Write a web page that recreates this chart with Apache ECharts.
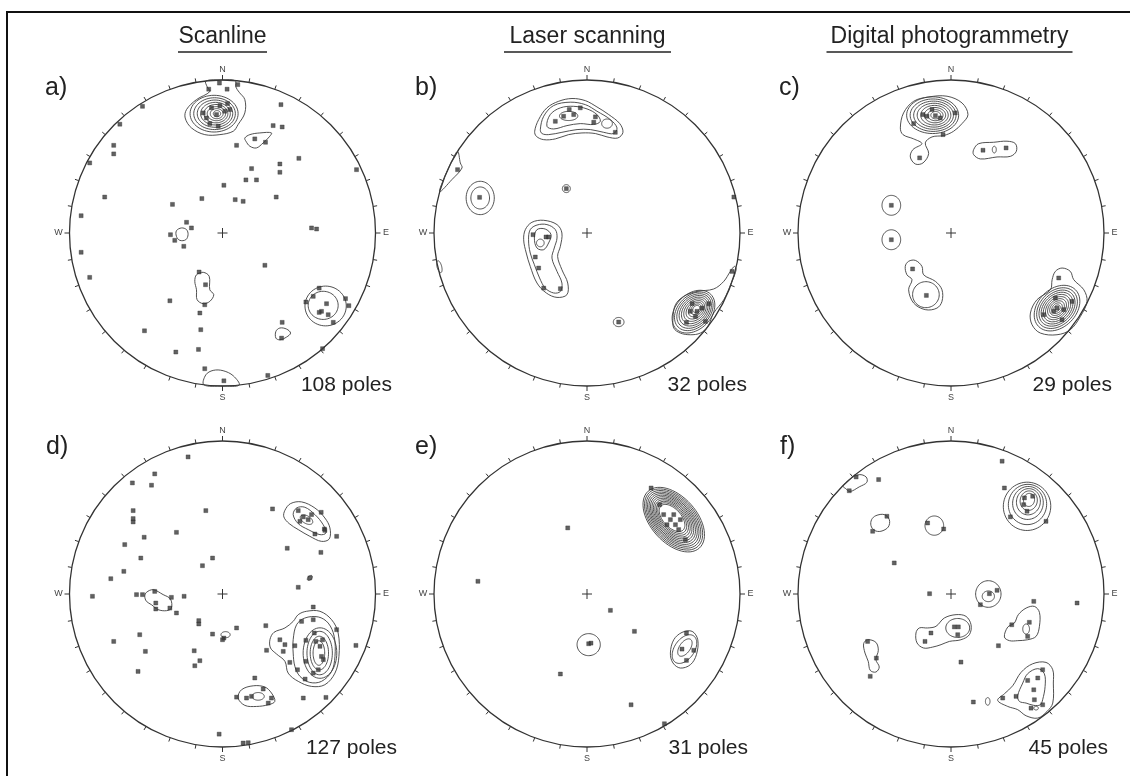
<!DOCTYPE html>
<html>
<head>
<meta charset="utf-8">
<script src="https://cdn.jsdelivr.net/npm/echarts@6/dist/echarts.min.js"></script>
<style>html,body{margin:0;padding:0;background:#fff}#chart{width:1130px;height:776px}</style>
</head>
<body>
<div id="chart"></div>
<script>
// ---------------- DATA (stereonet coordinates, primitive circle radius = 100) ----------------
const columnTitles = ['Scanline', 'Laser scanning', 'Digital photogrammetry'];
const panelLabels = ['a)', 'b)', 'c)', 'd)', 'e)', 'f)'];
const poleCounts = ['108 poles', '32 poles', '29 poles', '127 poles', '31 poles', '45 poles'];
const compassLabels = ['N', 'E', 'S', 'W'];

// ---- a) Scanline
const polesA = [
[-2,98],[10,97],[-9,94],[3,94],
[-12.6,78.5],[-7.2,81.8],[-1.7,83.3],[3.3,84.6],[-3.9,77.4],[1.5,79.6],[-8.3,71.5],[-2.8,69.8],[4.8,80.7],[-10.5,75.2],
[-52.3,82.8],[-67.1,71.1],[-71.1,57.3],[-71.1,51.7],[-86.8,45.8],
[38.2,83.9],[33.1,70.2],[39.0,69.3],[21.1,61.5],[28.1,59.3],[9.2,57.3],[49.9,48.8],[87.6,41.4],
[19.0,42.1],[37.5,45.1],[37.5,39.7],[15.3,34.7],[22.2,34.7],[0.9,31.2],
[-77.0,23.5],[-32.7,18.7],[-13.5,22.5],[8.3,21.8],[13.5,20.7],[35.1,23.5],
[-92.4,11.3],[-23.5,7.0],[-20.3,3.3],[-34.0,-1.1],[-31.2,-4.8],[-25.3,-8.7],
[58.2,3.3],[61.5,2.6],[-92.4,-12.6],[-86.8,-29.0],[27.7,-21.1],
[-15.3,-25.5],[-11.1,-33.8],[-11.6,-46.9],[-34.4,-44.3],[-14.8,-52.3],[-14.2,-63.2],[-51.0,-63.9],[-30.5,-77.8],[-15.7,-76.1],
[39.0,-58.4],[38.6,-68.7],
[63.2,-36.0],[59.3,-41.4],[54.5,-45.1],[68.0,-46.2],[80.4,-42.9],[82.6,-47.5],[64.7,-51.2],[69.1,-53.4],[63.2,-51.9],[72.4,-58.4],
[65.4,-75.6],[-11.6,-88.7],[0.9,-96.6],[29.6,-93.1]
];
const contoursA = [
[[-10.9,99.4],[-10.0,95.5],[-8.3,92.4],[-17.0,87.2],[-23.5,80.7],[-24.4,75.2],[-20.3,68.7],[-11.6,64.3],[-1.7,64.3],[7.0,66.5],[10.2,70.9],[14.6,78.5],[14.6,87.2],[10.9,92.0],[8.7,95.5],[8.3,99.6],[0,100]],
[[14.6,62.1],[17.9,64.3],[24.4,65.4],[32.0,65.4],[29.9,62.1],[26.6,58.9],[22.2,55.6],[17.9,56.7],[15.3,60.0]],
[[-30.1,1.5],[-26.8,3.3],[-23.5,2.2],[-22.5,-1.1],[-24.0,-4.4],[-27.9,-4.8],[-30.1,-2.2]],
[[-17.0,-27.3],[-12.6,-25.7],[-8.7,-28.3],[-8.3,-37.1],[-5.7,-40.3],[-8.3,-44.7],[-12.6,-46.2],[-16.6,-43.6],[-17.0,-37.1],[-18.1,-31.6]],
[[34.9,-64.3],[37.5,-62.1],[41.9,-62.8],[44.5,-65.4],[41.9,-68.0],[37.5,-69.8],[34.9,-68.7]],
[[-12.2,-99.2],[-10.9,-92.7],[-6.1,-89.8],[0.4,-90.0],[7.0,-93.3],[10.9,-99.4],[0,-100]]
];
// contour rings: [centreX, centreY, semiAxisX, semiAxisY, rotationDeg]
const ringsA = [
[-5.5,78,15.7,12,0],[-5.2,78,13.6,10.4,0],[-4.9,78,11.6,8.9,0],[-4.6,78,9.7,7.4,0],[-4.3,78,7.8,6.0,0],[-4.0,78,6.0,4.6,0],[-3.8,78,4.2,3.3,0],[-3.6,78,2.4,2.0,0],
[67.4,-47.7,13.5,13.0,0],[65.8,-47.3,9.8,9.2,0]
];

// ---- b) Laser scanning
const polesB = [
[-11.6,80.7],[-4.4,81.8],[-15.3,76.3],[-20.7,73.0],[5.5,75.9],[4.4,72.4],[18.5,65.8],[-8.7,77.4],
[-84.6,41.4],[-70.2,23.3],[-13.5,29.0],
[-35.3,-1.1],[-26.8,-2.6],[-25.1,-2.6],[-33.8,-15.7],[-31.6,-22.9],[-28.3,-36.0],[-17.4,-36.4],
[68.7,-46.2],[79.6,-46.2],[67.6,-51.2],[75.2,-49.1],[70.9,-54.5],[65.0,-58.4],[77.4,-57.8],[71.9,-51.2],
[94.8,-25.1],[96,23.5],[20.7,-58.2]
];
const contoursB = [
[[-34.2,66.5],[-31.6,74.1],[-26.2,81.8],[-18.5,86.1],[-9.8,87.9],[-1.1,86.5],[6.5,82.4],[14.2,77.4],[21.4,71.5],[23.5,65.8],[20.1,62.1],[13.1,62.8],[5.5,65.0],[-3.3,65.4],[-12.0,64.3],[-20.7,61.5],[-28.3,61.0],[-33.1,63.2]],
[[-30.5,67.6],[-28.3,76.3],[-21.8,83.3],[-10.9,85.5],[-1.1,83.9],[6.5,79.6],[15.3,74.1],[19.6,68.7],[17.4,65.0],[10.9,65.8],[2.2,67.6],[-6.5,67.6],[-16.4,65.8],[-25.1,64.3],[-29.4,65.0]],
[[-26.2,69.8],[-24.0,77.4],[-17.4,81.8],[-8.7,82.8],[0,81.1],[6.5,77.4],[8.7,73.0],[4.4,70.9],[-4.4,71.5],[-13.1,70.2],[-21.8,68.0]],
[[-84.6,53.3],[-82.8,45.8],[-81.7,42.5],[-88.3,34.9],[-96.3,27.0],[-92.2,38.7],[-88.5,46.5]],
[[-41.4,-4.4],[-40.3,2.2],[-36.0,7.0],[-28.3,8.3],[-19.6,5.5],[-16.4,0],[-17.4,-8.7],[-19.2,-15.3],[-16.4,-24.0],[-12.6,-32.7],[-13.1,-40.3],[-19.6,-42.1],[-26.6,-39.2],[-32.7,-32.7],[-37.1,-21.8],[-39.7,-13.1]],
[[-38.2,-4.4],[-37.1,2.2],[-32.7,5.2],[-26.2,5.5],[-20.7,2.2],[-19.6,-3.3],[-21.4,-9.8],[-22.9,-16.4],[-19.6,-25.1],[-16.4,-32.7],[-17.4,-38.2],[-21.8,-39.2],[-27.3,-36.0],[-31.0,-29.4],[-34.4,-20.7],[-37.1,-13.1]],
[[-34.4,-3.3],[-32.7,2.2],[-27.3,2.6],[-23.5,-1.1],[-25.1,-6.5],[-28.3,-10.9],[-32.7,-9.8]],
[[56.2,-55.6],[57.8,-46.9],[63.2,-41.4],[71.9,-38.2],[82.8,-36.6],[89.4,-31.6],[93.7,-25.1],[96.4,-21.8],[97.5,-23.9],[94.5,-32.2],[89.4,-43.6],[82.8,-52.3],[79.0,-61.0],[74.1,-65.4],[67.6,-66.5],[61.0,-65.4],[56.7,-62.1]]
];
const ringsB = [
[-69.8,22.9,9.2,10.9,0],[-69.8,22.9,6.1,7.2,0],
[-13.5,29.0,2.6,2.6,0],
[-12,76.5,6,3,0],[13.1,71.5,3.5,3,0],
[-30.5,-6.5,2.5,2.5,0],
[69.6,-51.4,16.0,11.6,45],[69.8,-51.2,14.5,10.4,45],[70.0,-51.0,13.0,9.3,45],[70.2,-50.8,11.5,8.2,45],[70.4,-50.6,10.0,7.1,45],[70.6,-50.4,8.5,6.0,45],[70.8,-50.2,7.0,4.9,45],[71.0,-50.0,5.5,3.8,45],[71.2,-49.8,4.0,2.8,45],[71.4,-49.6,2.6,1.9,45],
[20.7,-58.2,3.5,3,0],
[-96.5,-22,1.5,4,15]
];

// ---- c) Digital photogrammetry
const polesC = [
[-24.4,71.5],[-18.3,77.4],[-12.4,80.7],[-7.0,75.2],[2.8,78.5],[-5.2,64.3],[-15.7,76.3],[-10.2,76.7],
[-20.5,49.1],[20.9,54.1],[36.0,55.6],[-39.0,18.1],[-39.0,-4.4],[-25.1,-23.5],[-16.1,-40.8],
[70.4,-29.4],[68.2,-42.5],[79.1,-44.7],[67.1,-51.2],[60.6,-53.4],[72.6,-56.7],[73.7,-50.1],[69.3,-49.1]
];
const contoursC = [
[[-33.1,68.7],[-31.0,78.5],[-24.4,86.1],[-14.6,88.9],[-2.6,89.4],[7.2,85.0],[11.1,77.4],[7.2,71.5],[1.7,66.5],[-4.8,63.7],[-12.4,62.8],[-16.8,58.9],[-14.6,51.9],[-18.3,45.8],[-23.3,45.1],[-26.6,49.7],[-24.9,54.5],[-19.0,58.4],[-24.4,61.5],[-31.4,64.3]],
[[14.8,54.5],[18.1,58.4],[27.9,59.3],[36.6,60.0],[42.1,58.4],[42.7,53.4],[38.8,50.1],[30.1,49.7],[19.2,48.4],[14.8,51.2]],
[[-29.9,-21.8],[-27.7,-18.5],[-23.3,-17.9],[-19.0,-21.8],[-17.9,-27.3],[-10.2,-31.6],[-5.9,-37.1],[-5.9,-44.7],[-9.2,-49.1],[-16.8,-50.1],[-24.4,-45.8],[-27.7,-37.1],[-25.5,-30.5],[-28.8,-27.3]],
[[66.1,-30.5],[68.2,-25.1],[72.6,-22.9],[78.0,-25.1],[80.2,-30.5],[86.8,-37.1],[88.9,-44.7],[84.6,-54.5],[78.0,-63.2],[69.3,-66.5],[58.4,-65.4],[53.0,-60.0],[51.9,-52.3],[56.2,-43.6],[65.0,-37.1]]
];
const ringsC = [
[-12,77,17,12,0],[-11.7,77,15,10.6,0],[-11.4,77,13,9.2,0],[-11.1,77,11,7.8,0],[-10.8,77,9,6.4,0],[-10.5,77,7,5,0],[-10.2,77,5,3.6,0],[-10,77,3.2,2.4,0],
[28.3,54.5,1.3,2.2,0],
[-39,18.1,6.1,6.5,0],[-39,-4.4,6.1,6.5,0],
[-16.4,-40.3,8.7,8.5,0],
[69.3,-49.1,17,12.5,45],[69.3,-49.1,15.2,11.1,45],[69.3,-49.1,13.5,9.8,45],[69.3,-49.1,11.9,8.6,45],[69.3,-49.1,10.3,7.4,45],[69.3,-49.1,8.7,6.2,45],[69.3,-49.1,7.1,5.1,45],[69.3,-49.1,5.5,4.0,45],[69.3,-49.1,3.9,2.9,45],[69.3,-49.1,2.4,1.8,45]
];

// ---- d) Scanline
const polesD = [
[-22.5,89.6],[-44.3,78.5],[-58.9,72.6],[-46.4,71.1],[-58.4,54.5],[-58.4,49.3],[-58.4,47.1],[-10.9,54.5],[-30.1,40.3],[-51.2,37.1],[-63.9,32.3],[-53.4,23.5],[-6.5,23.5],[-13.1,18.5],[-64.5,14.8],[-73.0,10.0],[-85.0,-1.5],
[-56.2,-0.4],[-52.3,-0.4],[-44.3,1.7],[-43.6,-5.9],[-43.6,-9.8],[-33.4,-2.2],[-34.4,-9.2],[-25.1,-1.5],[-30.1,-12.4],
[-15.5,-17.4],[-15.5,-19.6],[-6.5,-26.2],[0.9,-28.8],[0,-29.9],[9.2,-22.2],[28.3,-20.7],
[-54.1,-26.6],[-71.1,-31.0],[-50.4,-37.5],[-18.5,-37.1],[-14.8,-43.6],[-18.1,-46.9],[-55.2,-50.6],
[32.7,55.6],[42.3,29.9],[64.3,27.2],[74.6,37.7],[57.1,10.5],[49.5,4.4],[87.2,-33.6],[21.1,-54.9],[52.8,-68.0],[67.6,-67.6],[45.1,-88.7],[-2.2,-91.6],[13.5,-97.4],[16.8,-97.2],
[49.5,54.5],[52.8,50.4],[50.6,47.5],[56.0,48.6],[58.2,51.9],[64.5,53.4],[66.6,42.5],[60.4,39.2],[66.9,41.6],
[59.3,-8.5],[51.7,-17.9],[59.3,-16.8],[74.6,-23.3],[37.5,-29.9],[40.8,-33.1],[47.3,-33.8],[39.7,-37.5],[28.8,-36.8],[54.5,-30.3],[61.0,-31.0],[65.4,-29.9],[60.0,-25.5],[64.7,-40.8],[65.9,-42.9],[54.5,-44.0],[44.0,-44.7],[49.0,-49.5],[59.3,-51.7],[54.0,-55.6],[62.6,-49.5],[63.7,-34.2],
[9.2,-67.4],[15.7,-68.0],[19.0,-66.9],[26.6,-62.1],[29.9,-71.3],[32.0,-68.0]
];
const contoursD = [
[[40.1,50.4],[40.8,54.7],[44.5,59.1],[51.7,60.2],[60.4,56.2],[66.9,49.7],[70.2,43.2],[69.8,36.0],[64.7,34.4],[57.1,37.7],[49.5,42.1],[43.6,46.0]],
[[46.2,51.9],[48.4,56.2],[53.8,56.7],[60.4,51.9],[65.8,45.3],[67.6,39.9],[63.7,38.8],[56.0,42.1],[49.5,46.0]],
[[-50.8,-1.5],[-49.7,1.1],[-45.3,2.8],[-38.8,-0.4],[-34.0,-3.3],[-33.4,-9.2],[-36.6,-10.9],[-42.1,-10.2],[-46.4,-7.0],[-49.7,-4.8]],
[[31.0,-29.9],[33.6,-25.1],[40.8,-22.2],[46.2,-17.9],[49.5,-13.5],[54.9,-11.3],[63.7,-11.3],[71.3,-16.8],[75.6,-25.5],[76.1,-40.8],[73.5,-51.7],[66.9,-59.3],[58.2,-60.4],[49.5,-57.1],[42.9,-51.7],[40.8,-44.0],[35.3,-39.2],[31.4,-35.3]],
[[46.2,-29.9],[48.4,-20.1],[53.8,-15.7],[62.6,-15.0],[69.1,-19.0],[73.0,-27.7],[73.5,-40.8],[71.3,-50.6],[64.7,-57.1],[57.1,-57.8],[50.6,-53.8],[47.3,-47.3],[46.2,-38.6]],
[[10.2,-68.0],[12.4,-62.6],[20.1,-60.0],[27.7,-60.8],[32.0,-64.7],[34.2,-70.2],[29.9,-72.4],[22.2,-73.5],[14.6,-72.8]]
];
const ringsD = [
[54.9,48.6,4.5,2.5,-30],
[2.0,-26.6,3,2,0],
[57.1,10.5,2,1.2,45],
[63.7,-38.6,11,16.5,0],[63.5,-38.6,8.3,14.2,0],[63.3,-38.6,6,11,0],[63.0,-38.6,3.8,8,0],
[23.3,-66.9,4,2.5,0]
];

// ---- e) Laser scanning
const polesE = [
[-12.6,43.2],[-71.3,8.3],[15.3,-10.7],[31.0,-24.4],[1.1,-32.5],[2.6,-32.1],[-17.4,-52.3],[28.8,-72.4],[50.6,-84.8],
[41.9,69.3],[50.1,51.9],[54.5,48.6],[56.7,51.9],[57.8,45.3],[52.3,45.3],[61.0,48.6],[59.9,42.1],[47.5,58.4],[64.3,35.5],
[65.0,-25.5],[62.1,-36.0],[69.8,-36.8],[65.0,-43.4]
];
const contoursE = [
[[54.5,-38.6],[56.7,-29.9],[62.1,-25.1],[68.7,-24.4],[72.4,-29.9],[71.5,-39.7],[67.6,-46.2],[61.0,-48.4],[56.2,-45.1]]
];
const ringsE = [
[56.7,48.6,25,15,-48],[56.6,48.7,23.7,14.1,-48],[56.5,48.8,22.4,13.2,-48],[56.4,48.9,21.1,12.3,-48],[56.3,49.0,19.8,11.5,-48],[56.2,49.1,18.5,10.7,-48],[56.1,49.2,17.2,9.9,-48],[56.0,49.3,15.9,9.1,-48],[55.9,49.4,14.6,8.3,-48],[55.8,49.5,13.3,7.5,-48],[55.7,49.6,12.0,6.7,-48],[55.6,49.7,10.7,5.9,-48],
[63.7,-36.0,10.5,6.5,55],[64.0,-35.0,6.5,3.5,55],
[1.1,-33.1,7.6,7.2,0]
];

// ---- f) Digital photogrammetry
const polesF = [
[33.4,86.8],[-47.3,74.8],[-62,76.5],[-66.5,67.5],[-41.9,50.8],[-51.2,41.0],[-15.3,46.4],[-4.8,42.5],[-37.1,20.3],[-14.0,0.2],
[82.4,-5.9],[54.1,-4.8],[25.1,0.2],[30.1,2.4],[19.2,-7.0],[39.7,-20.1],[51.2,-18.5],[50.1,-27.7],[31.0,-33.8],
[2.2,-21.5],[4.8,-21.5],[4.4,-26.6],[-13.1,-25.5],[-17.0,-31.0],[6.5,-44.5],
[-54.5,-31.0],[-48.8,-41.9],[-52.8,-53.8],
[14.6,-70.6],[33.8,-68.0],[50.1,-56.5],[56.7,-54.9],[59.9,-49.5],[54.1,-62.6],[42.5,-66.9],[54.5,-69.1],[52.3,-74.6],[59.9,-72.4],
[47.5,58.4],[53.4,63.9],[48.0,62.8],[38.8,50.4],[62.1,47.5],[49.7,54.1],[34.9,69.3]
];
const contoursF = [
[[-70.5,70.5],[-66,75.2],[-60,78.0],[-55.5,76.5],[-55,73],[-60,70],[-66,67],[-69,69]],
[[-51.9,48.6],[-49.1,51.2],[-43.6,51.9],[-40.3,48.6],[-41.0,43.8],[-45.8,41.0],[-50.1,41.6],[-52.3,44.7]],
[[-22.9,-25.5],[-20.7,-22.2],[-15.3,-22.2],[-9.8,-21.1],[-4.4,-15.7],[3.3,-13.5],[9.8,-14.6],[13.1,-20.1],[12.0,-26.6],[6.5,-29.9],[-1.1,-31.0],[-6.5,-33.1],[-12.0,-34.7],[-17.9,-35.3],[-22.2,-32.0]],
[[34.9,-28.1],[37.1,-21.6],[41.4,-19.0],[44.0,-13.5],[49.1,-9.2],[54.5,-8.1],[57.8,-12.0],[57.8,-21.1],[55.6,-27.7],[50.1,-29.9],[43.6,-30.5],[38.2,-30.5]],
[[-57.1,-32.5],[-54.5,-29.9],[-49.1,-31.6],[-47.5,-36.8],[-49.1,-42.9],[-46.9,-47.7],[-49.1,-51.0],[-52.8,-49.9],[-54.1,-44.0],[-56.2,-38.6]],
[[30.5,-69.5],[34.9,-65.2],[40.3,-60.0],[45.8,-51.2],[53.4,-45.6],[62.1,-44.7],[66.5,-49.5],[66.9,-58.2],[66.5,-71.3],[62.8,-76.7],[56.7,-81.1],[49.1,-79.6],[43.6,-75.6],[37.1,-73.5]],
[[43.6,-66.5],[46.9,-58.2],[50.1,-52.1],[56.7,-48.8],[61.0,-52.1],[61.5,-60.4],[59.9,-69.1],[58.4,-72.4],[54.1,-72.8],[49.1,-71.3],[44.7,-70.2]]
];
const ringsF = [
[-10.9,44.7,6.1,6.3,0],
[49.7,57.3,15.5,15.8,-10],[50.0,58.5,12.5,13.2,-10],[50.3,59.5,10,10.8,-10],[50.6,60.3,7.8,8.6,-10],[50.8,61.0,5.6,6.4,-10],[51.0,61.5,3.6,4.3,-10],
[24.4,0,8.3,8.7,0],[24.4,-1.5,4,3.5,0],
[4.4,-22.2,7.8,6.2,0],
[49.1,-22.9,2.2,3.3,0],
[55.6,-74.6,1.5,1.2,0],[24.0,-70.2,1.5,2.5,0]
];

// ---------------- LAYOUT / STYLE ----------------
const panelPoles = [polesA, polesB, polesC, polesD, polesE, polesF];
const panelContours = [contoursA, contoursB, contoursC, contoursD, contoursE, contoursF];
const panelRings = [ringsA, ringsB, ringsC, ringsD, ringsE, ringsF];

const R = 153;
const centres = [[222.5,233],[587,233],[951,233],[222.5,594],[587,594],[951,594]];
const labelPos = [[45,88],[415,88],[779,88],[46,447],[415,447],[780,447]];
const countPos = [[392,385],[747,385],[1112,385],[397,748],[748,748],[1108,748]];
const titleX = [222.5,587.5,949.5];
const underlineW = [89,167,246];
const FONT = '"Liberation Sans", Arial, Helvetica, sans-serif';
const INK = '#333333';
const LINE = '#3d3d3d';

const chart = echarts.init(document.getElementById('chart'), null, {renderer: 'canvas'});

const grids = [], xAxes = [], yAxes = [], series = [];
centres.forEach((c, i) => {
  grids.push({left: c[0] - R, top: c[1] - R, width: 2 * R, height: 2 * R});
  xAxes.push({type: 'value', gridIndex: i, min: -100, max: 100, show: false});
  yAxes.push({type: 'value', gridIndex: i, min: -100, max: 100, show: false});

  // primitive circle, 10° ticks, compass letters, centre cross
  series.push({
    type: 'custom', xAxisIndex: i, yAxisIndex: i, silent: true, clip: false, z: 1,
    data: [[0, 0]],
    renderItem: function (params, api) {
      const o = api.coord([0, 0]);
      const r = api.size([100, 100])[0];
      const ch = [];
      ch.push({type: 'circle', shape: {cx: o[0], cy: o[1], r: r}, style: {fill: 'none', stroke: INK, lineWidth: 1.3}});
      for (let a = 0; a < 360; a += 10) {
        const t = a * Math.PI / 180, sx = Math.sin(t), sy = -Math.cos(t);
        const len = (a % 90 === 0) ? 5 : 4;
        ch.push({type: 'line', shape: {x1: o[0] + sx * r, y1: o[1] + sy * r, x2: o[0] + sx * (r + len), y2: o[1] + sy * (r + len)}, style: {stroke: INK, lineWidth: 1}});
      }
      const off = [[0, -(r + 10)], [r + 10.5, 0], [0, r + 12], [-(r + 11), 0]];
      compassLabels.forEach((lab, k) => {
        ch.push({type: 'text', style: {text: lab, x: o[0] + off[k][0], y: o[1] + off[k][1], font: '9px ' + FONT, fill: '#444', textAlign: 'center', textVerticalAlign: 'middle'}});
      });
      ch.push({type: 'line', shape: {x1: o[0] - 5, y1: o[1], x2: o[0] + 5, y2: o[1]}, style: {stroke: INK, lineWidth: 1}});
      ch.push({type: 'line', shape: {x1: o[0], y1: o[1] - 5, x2: o[0], y2: o[1] + 5}, style: {stroke: INK, lineWidth: 1}});
      return {type: 'group', children: ch};
    }
  });

  // irregular contours
  const polys = panelContours[i];
  series.push({
    type: 'custom', xAxisIndex: i, yAxisIndex: i, silent: true, clip: false, z: 2,
    data: polys.map((p, k) => [p[0][0], p[0][1], k]),
    renderItem: function (params, api) {
      const pts = polys[params.dataIndex].map(p => api.coord(p));
      return {type: 'polygon', shape: {points: pts, smooth: 0.35}, style: {fill: 'none', stroke: LINE, lineWidth: 0.9}};
    }
  });

  // elliptical contour rings
  series.push({
    type: 'custom', xAxisIndex: i, yAxisIndex: i, silent: true, clip: false, z: 2,
    dimensions: ['x', 'y', 'rx', 'ry', 'rot'],
    encode: {x: 0, y: 1},
    data: panelRings[i],
    renderItem: function (params, api) {
      const cx = api.value(0), cy = api.value(1), rx = api.value(2), ry = api.value(3), rot = api.value(4) * Math.PI / 180;
      const pts = [];
      for (let k = 0; k < 60; k++) {
        const t = k / 60 * 2 * Math.PI;
        const ex = rx * Math.cos(t), ey = ry * Math.sin(t);
        pts.push(api.coord([cx + ex * Math.cos(rot) - ey * Math.sin(rot), cy + ex * Math.sin(rot) + ey * Math.cos(rot)]));
      }
      return {type: 'polygon', shape: {points: pts}, style: {fill: 'none', stroke: LINE, lineWidth: 0.9}};
    }
  });

  // poles
  series.push({
    type: 'scatter', xAxisIndex: i, yAxisIndex: i, silent: true, z: 3,
    symbol: 'rect', symbolSize: 4,
    itemStyle: {color: '#3a3a3a', borderColor: '#222', borderWidth: 0.4},
    data: panelPoles[i]
  });
});

const graphics = [];
// frame lines (top and left)
graphics.push({type: 'line', shape: {x1: 6, y1: 12, x2: 1130, y2: 12}, style: {stroke: '#111', lineWidth: 2}});
graphics.push({type: 'line', shape: {x1: 7, y1: 11, x2: 7, y2: 776}, style: {stroke: '#111', lineWidth: 2}});
columnTitles.forEach((t, k) => {
  graphics.push({type: 'text', style: {text: t, x: titleX[k], y: 37, font: '23px ' + FONT, fill: '#222', textAlign: 'center', textVerticalAlign: 'middle'}});
  graphics.push({type: 'line', shape: {x1: titleX[k] - underlineW[k] / 2, y1: 52, x2: titleX[k] + underlineW[k] / 2, y2: 52}, style: {stroke: '#222', lineWidth: 1.5}});
});
panelLabels.forEach((t, k) => {
  graphics.push({type: 'text', style: {text: t, x: labelPos[k][0], y: labelPos[k][1], font: '25px ' + FONT, fill: '#222', textAlign: 'left', textVerticalAlign: 'middle'}});
});
poleCounts.forEach((t, k) => {
  graphics.push({type: 'text', style: {text: t, x: countPos[k][0], y: countPos[k][1], font: '21px ' + FONT, fill: '#222', textAlign: 'right', textVerticalAlign: 'middle'}});
});

chart.setOption({
  animation: false,
  backgroundColor: '#ffffff',
  grid: grids,
  xAxis: xAxes,
  yAxis: yAxes,
  series: series,
  graphic: graphics
});
</script>
</body>
</html>
